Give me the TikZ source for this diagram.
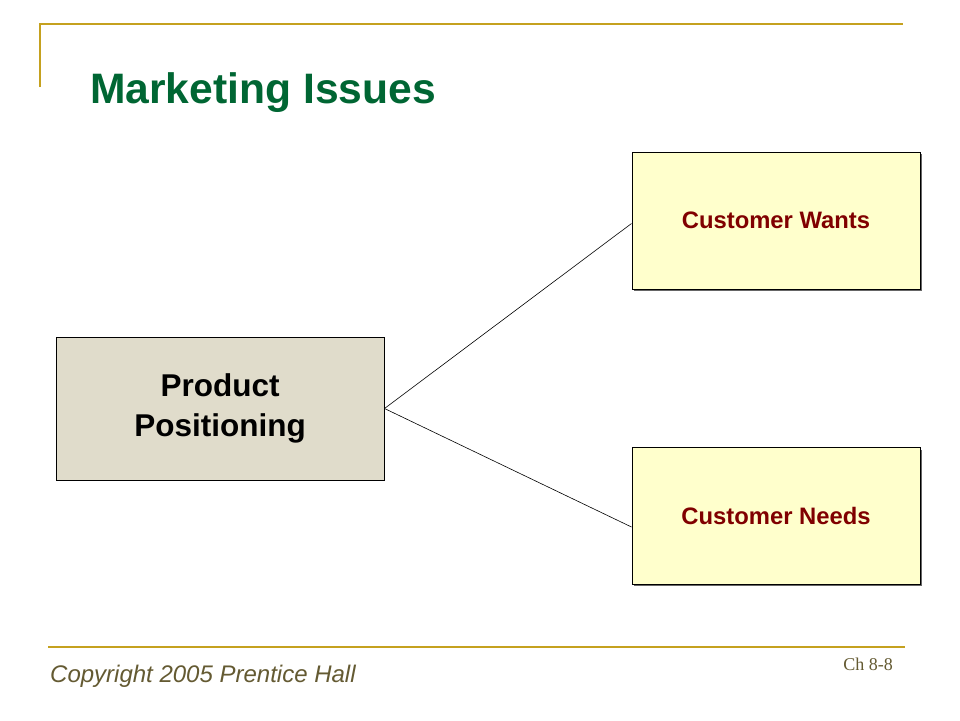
\documentclass[tikz,border=0pt]{standalone}
\usepackage{fontspec}
\setmainfont{Liberation Sans}
\newfontfamily\serifch{Liberation Serif}
\definecolor{gold}{RGB}{197,161,31}
\definecolor{titlegreen}{RGB}{0,102,51}
\definecolor{prodfill}{RGB}{224,220,203}
\definecolor{lightyel}{RGB}{255,255,204}
\definecolor{darkred}{RGB}{128,0,0}
\definecolor{olive}{RGB}{100,90,50}
\begin{document}
\begin{tikzpicture}[x=1pt,y=-1pt,
  prodbox/.style={draw=black, line width=1pt, fill=prodfill, minimum width=328pt, minimum height=143pt, align=center, inner sep=0pt, font=\fontsize{31.5}{40}\selectfont\bfseries},
  custbox/.style={draw=black, line width=1pt, fill=lightyel, minimum width=288pt, minimum height=137pt, align=center, inner sep=0pt, text=darkred, font=\fontsize{23.8}{28}\selectfont\bfseries},
  shadowbox/.style={fill=black!60, draw=none},
  goldline/.style={draw=gold, line width=2pt},
  link/.style={draw=black, line width=0.6pt}]
\useasboundingbox[fill=white] (0,0) rectangle (960,720);
% frame lines
\coordinate (tl) at (40,24);
\coordinate (tr) at (903,24);
\coordinate (bl) at (40,87);
\draw[goldline] (bl) -- (tl) -- (tr);
\coordinate (fl) at (48,647);
\coordinate (fr) at (905,647);
\draw[goldline] (fl) -- (fr);
% title
\node[anchor=base west, inner sep=0pt, text=titlegreen, font=\fontsize{42.6}{50}\selectfont\bfseries] (title) at (90,103) {Marketing Issues};
% boxes
\fill[shadowbox] (634,154) rectangle (922,291);
\fill[shadowbox] (634,450) rectangle (922,586);
\node[prodbox] (prod) at (220,408.5) {Product\\Positioning};
\node[custbox] (wants) at (776,220.5) {Customer Wants};
\node[custbox] (needs) at (776,516) {Customer Needs};
% connectors
\draw[link] (prod.east) -- ([yshift=-3pt]wants.west);
\draw[link] (prod.east) -- ([yshift=-11pt]needs.west);
% footer
\node[anchor=base west, inner sep=0pt, text=olive, font=\fontsize{24}{28}\selectfont\itshape] (copy) at (50,682) {Copyright 2005 Prentice Hall};
\node[anchor=base east, inner sep=0pt, text=olive, font=\serifch\fontsize{18}{21}\selectfont] (ch) at (893,670) {Ch 8-8};
\end{tikzpicture}
\end{document}
